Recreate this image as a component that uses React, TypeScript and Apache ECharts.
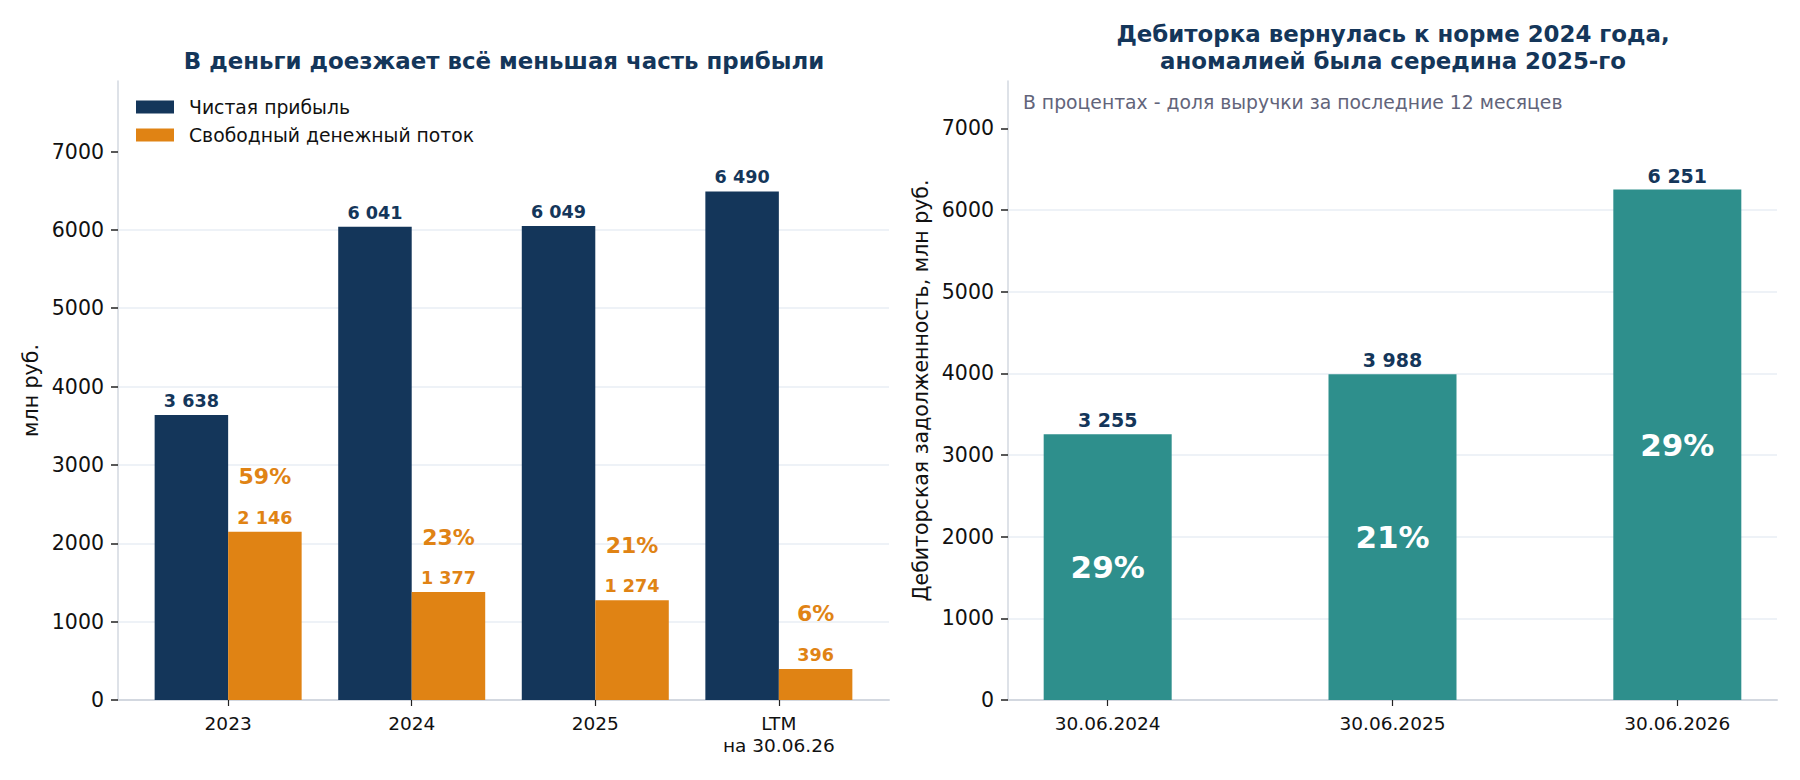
import React, { useEffect, useRef } from 'react';
import * as echarts from 'echarts';

// ---- Data ----
const years = ['2023', '2024', '2025', 'LTM\nна 30.06.26'];
const netProfit = [3638, 6041, 6049, 6490];
const freeCashFlow = [2146, 1377, 1274, 396];
const fcfShare = ['59%', '23%', '21%', '6%'];

const dates = ['30.06.2024', '30.06.2025', '30.06.2026'];
const receivables = [3255, 3988, 6251];
const receivablesShare = ['29%', '21%', '29%'];

const yTicks = [0, 1000, 2000, 3000, 4000, 5000, 6000, 7000];

const leftTitle = 'В деньги доезжает всё меньшая часть прибыли';
const rightTitle = 'Дебиторка вернулась к норме 2024 года,\nаномалией была середина 2025-го';
const rightSubtitle = 'В процентах - доля выручки за последние 12 месяцев';
const seriesNames = ['Чистая прибыль', 'Свободный денежный поток'];

// ---- Styles ----
const NAVY = '#14365a';
const ORANGE = '#e08314';
const TEAL = '#2e8f8c';
const GRID = '#e9eef4';
const AXIS = '#d3d8e0';
const TEXT = '#111111';
const FONT = 'DejaVu Sans';

const fmt = (v: number) => String(v).replace(/\B(?=(\d{3})+(?!\d))/g, ' ');

function buildOption(): any {
  const yAxisCommon = (gridIndex: number, max: number, name: string) => ({
    type: 'value',
    gridIndex,
    min: 0,
    max,
    interval: 1000,
    name,
    nameLocation: 'middle',
    nameGap: 77,
    nameTextStyle: { fontSize: 20.5, color: TEXT, fontFamily: FONT },
    axisLine: { show: true, onZero: false, lineStyle: { color: AXIS, width: 1.5 } },
    axisTick: { show: true, customValues: yTicks, length: 7, lineStyle: { color: '#222', width: 1.5 } },
    axisLabel: {
      customValues: yTicks,
      formatter: (v: number) => String(v),
      fontSize: 20.5,
      color: TEXT,
      margin: 14,
      fontFamily: FONT,
    },
    splitLine: { show: true, showMaxLine: false, lineStyle: { color: GRID, width: 1.5 } },
  });

  const xAxisCommon = (gridIndex: number, min: number, max: number, labels: string[]) => ({
    type: 'value',
    gridIndex,
    min,
    max,
    axisLine: { show: true, onZero: false, lineStyle: { color: AXIS, width: 2 } },
    axisTick: {
      show: true,
      customValues: labels.map((_, i) => i),
      length: 6,
      lineStyle: { color: '#222', width: 1.2 },
    },
    axisLabel: {
      customValues: labels.map((_, i) => i),
      formatter: (v: number) => labels[Math.round(v)] ?? '',
      fontSize: 18.5,
      lineHeight: 22,
      color: TEXT,
      margin: 12,
      fontFamily: FONT,
    },
    splitLine: { show: false },
  });

  return {
    animation: false,
    backgroundColor: '#ffffff',
    textStyle: { fontFamily: FONT },
    grid: [
      { left: 118, right: 911, top: 81, bottom: 80 },
      { left: 1008, right: 23, top: 81, bottom: 80 },
    ],
    legend: {
      left: 136,
      top: 97,
      padding: 0,
      orient: 'vertical',
      itemWidth: 38,
      itemHeight: 13,
      itemGap: 8,
      icon: 'rect',
      selectedMode: false,
      data: seriesNames,
      textStyle: { fontSize: 18.8, color: TEXT, lineHeight: 20, padding: [0, 0, 0, 10], fontFamily: FONT },
    },
    xAxis: [xAxisCommon(0, -0.6, 3.6, years), xAxisCommon(1, -0.35, 2.35, dates)],
    yAxis: [
      yAxisCommon(0, 7900, 'млн руб.'),
      yAxisCommon(1, 7580, 'Дебиторская задолженность, млн руб.'),
    ],
    graphic: [
      {
        type: 'text',
        x: 504,
        y: 61,
        silent: true,
        style: {
          text: leftTitle,
          fill: NAVY,
          font: `bold 22.9px "${FONT}"`,
          align: 'center',
          verticalAlign: 'middle',
          textAlign: 'center',
          textVerticalAlign: 'middle',
        },
      },
      {
        type: 'text',
        x: 1393,
        y: 47.5,
        silent: true,
        style: {
          text: rightTitle,
          fill: NAVY,
          font: `bold 22.9px "${FONT}"`,
          lineHeight: 27,
          align: 'center',
          verticalAlign: 'middle',
          textAlign: 'center',
          textVerticalAlign: 'middle',
        },
      },
      {
        type: 'text',
        x: 1023,
        y: 102,
        silent: true,
        style: {
          text: rightSubtitle,
          fill: '#62647a',
          font: `18.8px "${FONT}"`,
          align: 'left',
          verticalAlign: 'middle',
          textAlign: 'left',
          textVerticalAlign: 'middle',
        },
      },
    ],
    series: [
      {
        type: 'bar',
        name: seriesNames[0],
        xAxisIndex: 0,
        yAxisIndex: 0,
        data: netProfit.map((v, i) => [i, v]),
        barWidth: 73.5,
        barGap: '0%',
        itemStyle: { color: NAVY },
        emphasis: { disabled: true },
        label: {
          show: true,
          position: 'top',
          distance: 4,
          formatter: (p: any) => fmt(p.value[1]),
          fontSize: 17.6,
          fontWeight: 'bold',
          lineHeight: 20,
          color: NAVY,
          fontFamily: FONT,
        },
      },
      {
        type: 'bar',
        name: seriesNames[1],
        xAxisIndex: 0,
        yAxisIndex: 0,
        data: freeCashFlow.map((v, i) => [i, v]),
        barWidth: 73.5,
        barGap: '0%',
        itemStyle: { color: ORANGE },
        emphasis: { disabled: true },
        label: {
          show: true,
          position: 'top',
          distance: 4,
          formatter: (p: any) => `{p|${fcfShare[p.dataIndex]}}\n{v|${fmt(p.value[1])}}`,
          rich: {
            p: { fontSize: 22, fontWeight: 'bold', color: ORANGE, lineHeight: 62, fontFamily: FONT },
            v: { fontSize: 17.6, fontWeight: 'bold', color: ORANGE, lineHeight: 20, fontFamily: FONT },
          },
        },
      },
      {
        type: 'bar',
        name: 'Дебиторская задолженность',
        xAxisIndex: 1,
        yAxisIndex: 1,
        data: receivables.map((v, i) => [i, v]),
        barWidth: 128,
        barGap: '-100%',
        itemStyle: { color: TEAL },
        emphasis: { disabled: true },
        label: {
          show: true,
          position: 'top',
          distance: 3,
          formatter: (p: any) => fmt(p.value[1]),
          fontSize: 19,
          fontWeight: 'bold',
          lineHeight: 22,
          color: NAVY,
          fontFamily: FONT,
        },
      },
      {
        type: 'bar',
        name: 'Доля выручки',
        xAxisIndex: 1,
        yAxisIndex: 1,
        data: receivables.map((v, i) => [i, v]),
        barWidth: 128,
        barGap: '-100%',
        itemStyle: { color: 'rgba(0,0,0,0)' },
        emphasis: { disabled: true },
        silent: true,
        z: 3,
        label: {
          show: true,
          position: 'inside',
          formatter: (p: any) => receivablesShare[p.dataIndex],
          fontSize: 31,
          fontWeight: 'bold',
          color: '#ffffff',
          fontFamily: FONT,
        },
      },
    ],
  };
}

export default function App() {
  const ref = useRef<HTMLDivElement>(null);
  useEffect(() => {
    document.body.style.margin = '0';
    if (!ref.current) return;
    const chart = echarts.init(ref.current, undefined, { renderer: 'svg' });
    chart.setOption(buildOption());
    return () => chart.dispose();
  }, []);
  return <div ref={ref} style={{ width: 1800, height: 780, background: '#fff' }} />;
}
